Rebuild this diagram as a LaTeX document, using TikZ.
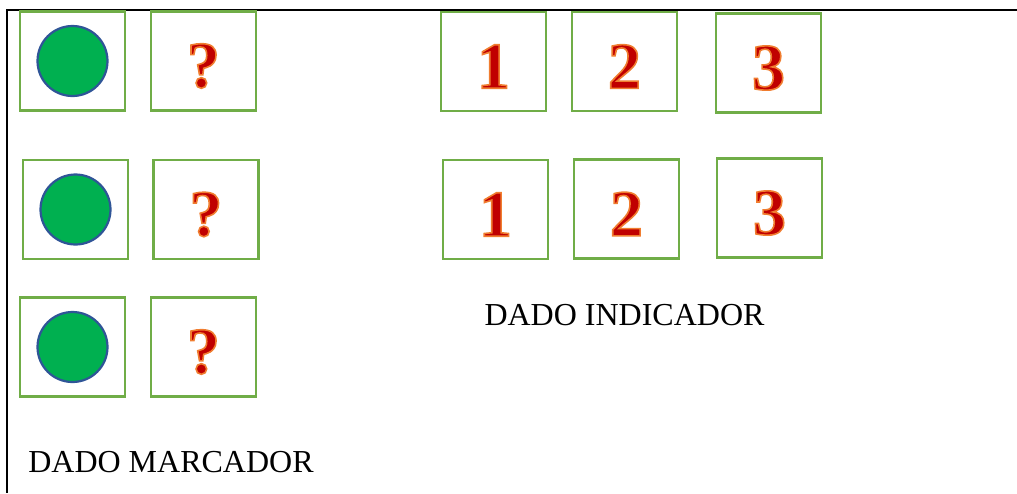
\documentclass[tikz,border=0pt]{standalone}
\usepackage{fontspec}
\setmainfont{Liberation Serif}
\definecolor{boxgreen}{HTML}{70AD47}
\definecolor{dotgreen}{HTML}{00B050}
\definecolor{dotblue}{HTML}{2F5597}
\definecolor{digitred}{HTML}{C00000}
% red glyph with an orange stroke round it, set a little low in the face
\newcommand{\dicemark}[1]{\raisebox{-5pt}[\height][\depth]{\textcolor{digitred}{%
  \special{pdf:literal 2 Tr 1.6 w 0.94 0.49 0.19 RG}#1\special{pdf:literal 0 Tr}}}}

\begin{document}
\begin{tikzpicture}[x=1pt, y=-1pt,
    face/.style={draw=boxgreen, line width=2.5pt, minimum width=105pt,
      minimum height=99pt, inner sep=0pt,
      font=\fontsize{66}{78}\selectfont\bfseries},
    dot/.style={circle, fill=dotgreen, draw=dotblue, line width=2.2pt,
      minimum size=70pt, inner sep=0pt},
    caption/.style={font=\fontsize{32}{38}\selectfont, inner sep=0pt}]
  \useasboundingbox (0,0) rectangle (1017,493);
  % frame: only top and left edges show
  \draw[line width=2.5pt] (1017,10) -- (7,10) -- (7,493);
  % DADO MARCADOR: dot face and ? face, three rows
  \node[face] (m1a) at (72.5,61) {};
  \node[face] (m1b) at (203.5,61) {\dicemark{?}};
  \node[face] (m2a) at (75.5,209.5) {};
  \node[face] (m2b) at (206,209.5) {\dicemark{?}};
  \node[face] (m3a) at (72.5,347) {};
  \node[face] (m3b) at (203.5,347) {\dicemark{?}};
  \node[dot] (d1) at (m1a.center) {};
  \node[dot] (d2) at (m2a.center) {};
  \node[dot] (d3) at (m3a.center) {};
  % DADO INDICADOR: faces 1 2 3, two rows
  \node[face] (i1a) at (493.5,61.5) {\dicemark{1}};
  \node[face] (i2a) at (624.5,61.5) {\dicemark{2}};
  \node[face] (i3a) at (768.5,63) {\dicemark{3}};
  \node[face] (i1b) at (495.5,209.5) {\dicemark{1}};
  \node[face] (i2b) at (626.5,209) {\dicemark{2}};
  \node[face] (i3b) at (769.5,208) {\dicemark{3}};
  % labels
  \node[caption] (indicador) at (624.5,315) {DADO INDICADOR};
  \node[caption] (marcador) at (171,462) {DADO MARCADOR};
\end{tikzpicture}
\end{document}
